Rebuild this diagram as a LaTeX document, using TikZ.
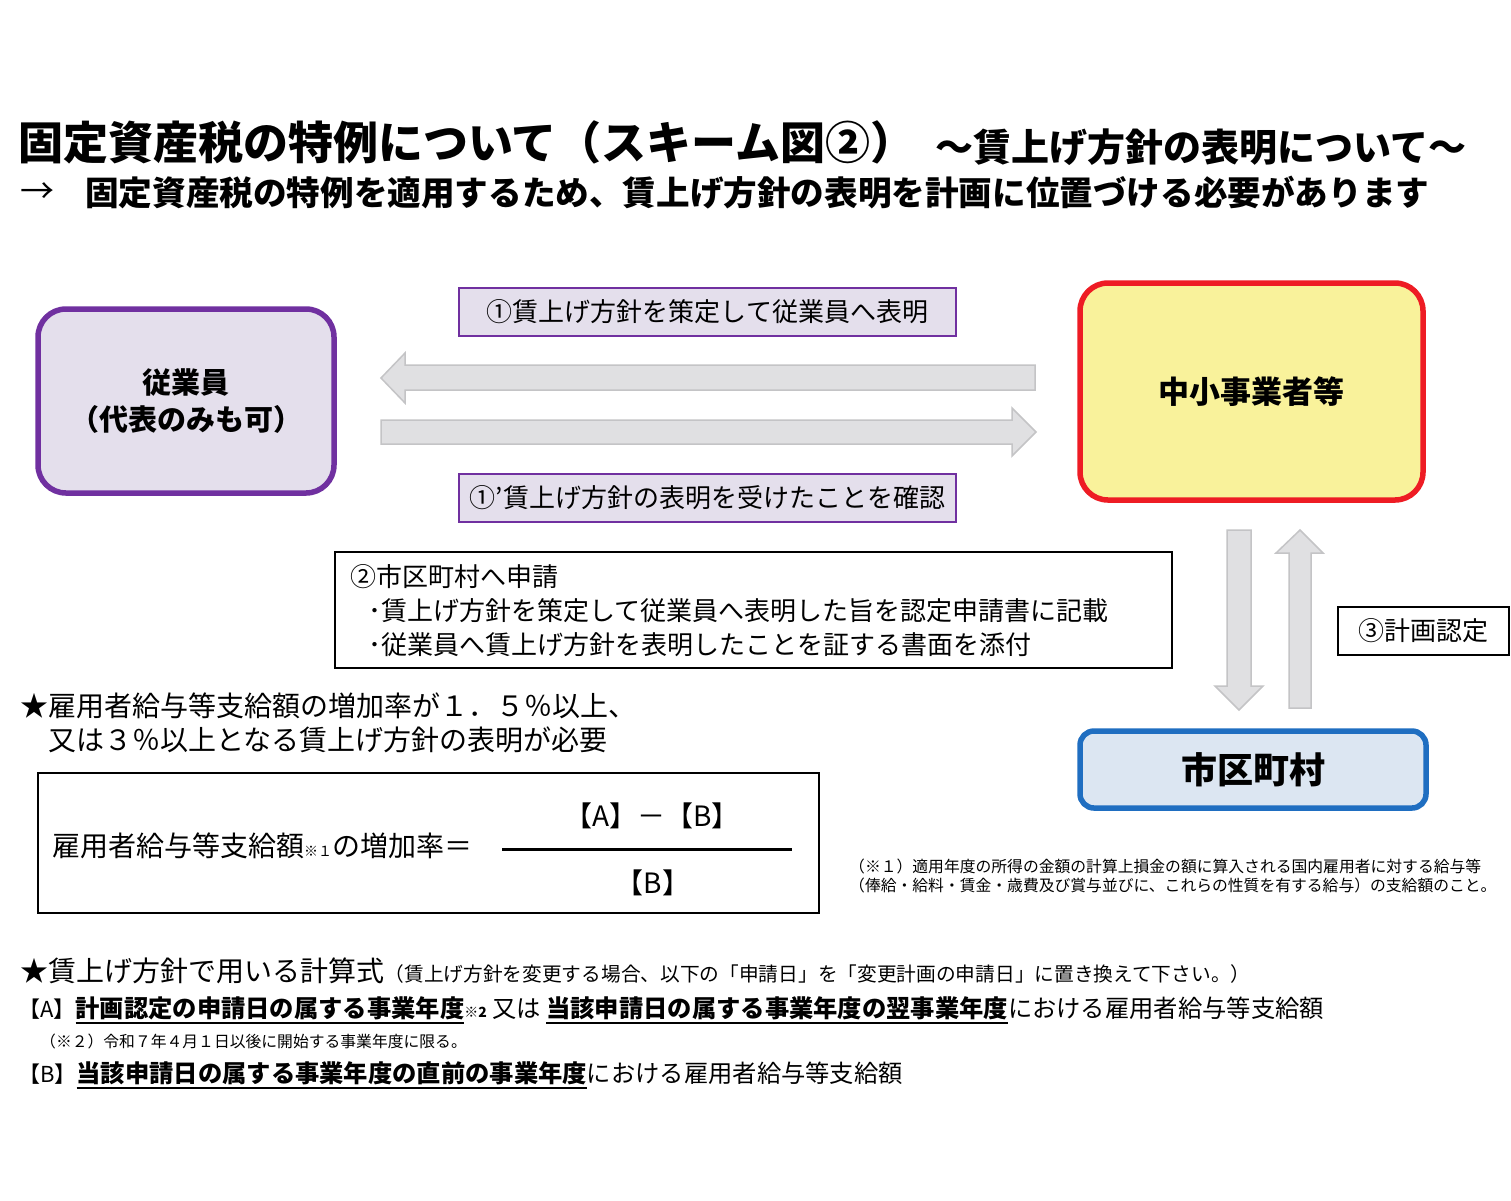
\documentclass[tikz,border=0pt]{standalone}
\usepackage{fontspec}
\setmainfont{Noto Sans CJK JP}
\usetikzlibrary{positioning}
\definecolor{empline}{HTML}{7030A0}
\definecolor{empfill}{HTML}{E4DFEC}
\definecolor{smeline}{HTML}{EE1C24}
\definecolor{smefill}{HTML}{F9F29B}
\definecolor{cityline}{HTML}{1F6EC1}
\definecolor{cityfill}{HTML}{DCE6F2}
\definecolor{arrowfill}{HTML}{E0E0E2}
\definecolor{arrowline}{HTML}{C4C4C6}
\newcommand\fsz[2]{\fontsize{#1}{#2}\selectfont}
\newsavebox\ulbox
\newcommand\ulbf[1]{\sbox\ulbox{#1}\rlap{\rule[-7pt]{\wd\ulbox}{2pt}}\usebox\ulbox}

\begin{document}
\begin{tikzpicture}[x=1pt,y=-1pt,
  txt/.style={inner sep=0pt,anchor=west},
  actor/.style={line width=5.5pt,align=center,font=\fsz{29}{37}\bfseries},
  stepbox/.style={draw=empline,fill=empfill,line width=2pt,minimum width=497,minimum height=48,font=\fsz{26}{30}},
  plainbox/.style={draw,line width=1.5pt},
  blockarrow/.style={fill=arrowfill,draw=arrowline,line width=1.5pt}]
\fill[white] (0,0) rectangle (1511,1200);
\useasboundingbox (0,0) rectangle (1511,1200);

\node[txt,font=\fsz{45}{50}\bfseries] (title) at (18,142) {固定資産税の特例について（スキーム図②）};
\node[txt,font=\fsz{38}{44}\bfseries] (subtitle) at (935,147) {～賃上げ方針の表明について～};
\node[txt,font=\fsz{34}{40}] (lead) at (20,193) {→};
\node[txt,font=\fsz{33.6}{40}\bfseries] (leadtext) at (85,193) {固定資産税の特例を適用するため、賃上げ方針の表明を計画に位置づける必要があります};

\node[actor,draw=empline,fill=empfill,rounded corners=28pt,minimum width=296,minimum height=184] (emp) at (186,401) {従業員\\（代表のみも可）};
\node[actor,draw=smeline,fill=smefill,rounded corners=28pt,minimum width=343,minimum height=217,font=\fsz{31}{37}\bfseries] (sme) at (1251.5,391.5) {中小事業者等};
\node[actor,draw=cityline,fill=cityfill,rounded corners=14pt,minimum width=346,minimum height=77,font=\fsz{36}{42}\bfseries] (city) at (1253,769.5) {市区町村};

\node[stepbox] (announce) at (707.5,312) {①賃上げ方針を策定して従業員へ表明};
\node[stepbox] (confirm) at (707.5,498) {①’賃上げ方針の表明を受けたことを確認};

\draw[blockarrow] (1035,365) -- (405,365) -- (405,353) -- (381,378) -- (405,403) -- (405,390) -- (1035,390) -- cycle;
\draw[blockarrow] (381,420) -- (1012,420) -- (1012,408) -- (1036,432) -- (1012,456) -- (1012,444) -- (381,444) -- cycle;
\draw[blockarrow] (1227,530) -- (1251,530) -- (1251,686) -- (1263,686) -- (1239,710) -- (1215,686) -- (1227,686) -- cycle;
\draw[blockarrow] (1289,708) -- (1289,553) -- (1276,553) -- (1300,530) -- (1323,553) -- (1311,553) -- (1311,708) -- cycle;

\node[plainbox,minimum width=837,minimum height=116] (apply) at (753.5,610) {};
\node[txt,font=\fsz{26}{30}] (applyhead) at (350,577) {②市区町村へ申請};
\node[txt,font=\fsz{26}{30}] (applyone) at (368,611) {･賃上げ方針を策定して従業員へ表明した旨を認定申請書に記載};
\node[txt,font=\fsz{26}{30}] (applytwo) at (368,645) {･従業員へ賃上げ方針を表明したことを証する書面を添付};
\node[plainbox,minimum width=171,minimum height=48,font=\fsz{26}{30}] (approve) at (1423.5,631) {③計画認定};

\node[txt,font=\fsz{28}{34}] (need) at (20,706) {★雇用者給与等支給額の増加率が１．５％以上、};
\node[txt,font=\fsz{28}{34}] (needtwo) at (48,740) {又は３％以上となる賃上げ方針の表明が必要};

\node[plainbox,line width=2.5pt,minimum width=781,minimum height=140] (formula) at (428.5,843) {};
\node[txt] (rate) at (52,846) {\fsz{28}{34}雇用者給与等支給額{\fsz{14}{16}※１}の増加率＝};
\coordinate (fracl) at (502,849);
\coordinate (fracr) at (792,849);
\draw[line width=3pt] (fracl) -- (fracr);
\node[inner sep=0pt,font=\fsz{28}{34}] (numer) at (652,816) {【A】－【B】};
\node[inner sep=0pt,font=\fsz{28}{34}] (denom) at (653,883) {【B】};

\node[txt,font=\fsz{15.8}{19}] (noteone) at (849,866) {（※１）適用年度の所得の金額の計算上損金の額に算入される国内雇用者に対する給与等};
\node[txt,font=\fsz{15.8}{19}] (notetwo) at (849,885) {（俸給・給料・賃金・歳費及び賞与並びに、これらの性質を有する給与）の支給額のこと。};

\node[txt,font=\fsz{28}{34}] (calc) at (20,971) {★賃上げ方針で用いる計算式};
\node[inner sep=0pt,anchor=base west,font=\fsz{19.7}{24}] (calcnote) at (calc.base east) {（賃上げ方針を変更する場合、以下の「申請日」を「変更計画の申請日」に置き換えて下さい。）};
\node[inner sep=0pt,anchor=base west] (defa) at (18,1017) {\fsz{22}{26}【A】\fsz{24.3}{28}{\bfseries\ulbf{計画認定の申請日の属する事業年度}{\fsz{14}{16}※2}} 又は \ulbf{\bfseries 当該申請日の属する事業年度の翌事業年度}における雇用者給与等支給額};
\node[txt,font=\fsz{15.8}{19}] (defanote) at (40,1041) {（※２）令和７年４月１日以後に開始する事業年度に限る。};
\node[inner sep=0pt,anchor=base west] (defb) at (18,1082) {\fsz{22}{26}【B】\fsz{24.3}{28}\ulbf{\bfseries 当該申請日の属する事業年度の直前の事業年度}における雇用者給与等支給額};
\end{tikzpicture}
\end{document}
